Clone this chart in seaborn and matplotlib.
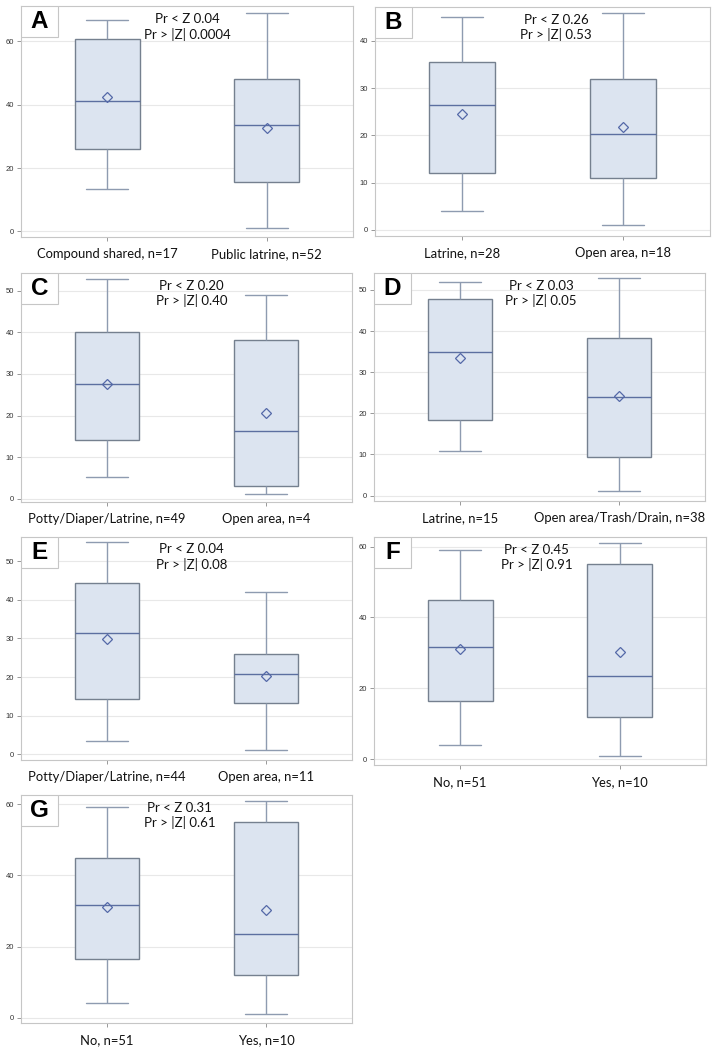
import numpy as np
import pandas as pd
import matplotlib
matplotlib.use("Agg")
import matplotlib.pyplot as plt
import seaborn as sns
from matplotlib.patches import Rectangle

# values: whisker low, Q1, median, Q3, whisker high, mean
a_groups = ['Compound shared, n=17', 'Public latrine, n=52']
a_low = [13.5, 0.9]
a_q1 = [26.1, 15.6]
a_med = [41.1, 33.5]
a_q3 = [60.9, 48.1]
a_high = [66.9, 69.0]
a_mean = [42.4, 32.6]
a_p = ['0.04', '0.0004']

b_groups = ['Latrine, n=28', 'Open area, n=18']
b_low = [4.0, 1.0]
b_q1 = [12.1, 11.0]
b_med = [26.5, 20.3]
b_q3 = [35.5, 32.0]
b_high = [45.0, 46.0]
b_mean = [24.5, 21.8]
b_p = ['0.26', '0.53']

c_groups = ['Potty/Diaper/Latrine, n=49', 'Open area, n=4']
c_low = [5.1, 1.1]
c_q1 = [14.0, 3.1]
c_med = [27.5, 16.2]
c_q3 = [40.1, 38.2]
c_high = [52.9, 48.9]
c_mean = [27.5, 20.6]
c_p = ['0.20', '0.40']

d_groups = ['Latrine, n=15', 'Open area/Trash/Drain, n=38']
d_low = [10.8, 1.1]
d_q1 = [18.3, 9.5]
d_med = [34.9, 24.0]
d_q3 = [47.9, 38.4]
d_high = [51.9, 52.9]
d_mean = [33.5, 24.3]
d_p = ['0.03', '0.05']

e_groups = ['Potty/Diaper/Latrine, n=44', 'Open area, n=11']
e_low = [3.5, 1.0]
e_q1 = [14.4, 13.4]
e_med = [31.5, 20.9]
e_q3 = [44.5, 26.0]
e_high = [54.9, 42.0]
e_mean = [29.8, 20.4]
e_p = ['0.04', '0.08']

f_groups = ['No, n=51', 'Yes, n=10']
f_low = [4.0, 0.9]
f_q1 = [16.4, 11.9]
f_med = [31.6, 23.5]
f_q3 = [45.0, 55.1]
f_high = [59.1, 61.0]
f_mean = [31.2, 30.3]
f_p = ['0.45', '0.91']

g_groups = ['No, n=51', 'Yes, n=10']
g_low = [4.0, 0.9]
g_q1 = [16.4, 11.9]
g_med = [31.6, 23.5]
g_q3 = [45.0, 55.1]
g_high = [59.1, 61.0]
g_mean = [31.2, 30.3]
g_p = ['0.31', '0.61']

panels = [
    ('A', a_groups, a_low, a_q1, a_med, a_q3, a_high, a_mean, a_p),
    ('B', b_groups, b_low, b_q1, b_med, b_q3, b_high, b_mean, b_p),
    ('C', c_groups, c_low, c_q1, c_med, c_q3, c_high, c_mean, c_p),
    ('D', d_groups, d_low, d_q1, d_med, d_q3, d_high, d_mean, d_p),
    ('E', e_groups, e_low, e_q1, e_med, e_q3, e_high, e_mean, e_p),
    ('F', f_groups, f_low, f_q1, f_med, f_q3, f_high, f_mean, f_p),
    ('G', g_groups, g_low, g_q1, g_med, g_q3, g_high, g_mean, g_p),
]

# axes boxes in pixels (left, top, right, bottom), y-limits, y-ticks step
W, H = 717, 1054
boxes = [(21, 6, 353, 237), (375, 7, 710, 236),
         (21, 273, 352, 502), (374, 273, 705, 501),
         (21, 537, 352, 760), (374, 537, 706, 765),
         (21, 795, 352, 1023)]
ylims = [(-1.8, 71.2), (-1.3, 47.2), (-0.8, 54.3), (-1.3, 54.1),
         (-1.5, 56.3), (-1.6, 62.7), (-1.5, 62.6)]
ysteps = [20, 10, 10, 10, 10, 20, 20]
text_x = [0.5, 0.54, 0.515, 0.505, 0.515, 0.49, 0.48]

sns.set_theme(style='white')
plt.rcParams['font.family'] = ['Lato', 'DejaVu Sans']

fill = '#dce4f0'
edge = '#75808f'
whisk = '#8e9bb0'
med_c = '#5c6fa0'
frame = '#c6c6c6'

fig = plt.figure(figsize=(W / 100, H / 100), dpi=100)

for i, (letter, groups, lo, q1, med, q3, hi, mean, pv) in enumerate(panels):
    l, t, r, b = boxes[i]
    ax = fig.add_axes([l / W, 1 - b / H, (r - l) / W, (b - t) / H])

    # five-number summary per group, whiskers at min/max
    df = pd.DataFrame({
        'group': np.repeat(groups, 5),
        'value': np.ravel(np.column_stack([lo, q1, med, q3, hi])),
    })
    sns.boxplot(data=df, x='group', y='value', order=groups, ax=ax,
                whis=(0, 100), width=0.405, color=fill, saturation=1,
                linecolor=edge, linewidth=1.0, capwidths=0.26,
                whiskerprops=dict(color=whisk, lw=1.0),
                capprops=dict(color=whisk, lw=1.0),
                medianprops=dict(color=med_c, lw=1.0))
    ax.plot(np.arange(len(mean)), mean, linestyle='none', marker='D',
            ms=4.7, mfc='none', mec='#5468a8', mew=0.9, zorder=5)

    ax.set_xlim(-0.54, 1.54)
    ax.set_ylim(*ylims[i])
    step = ysteps[i]
    ax.set_yticks(np.arange(0, ylims[i][1], step))
    ax.set_xlabel('')
    ax.set_ylabel('')
    ax.yaxis.grid(True, color='#e8e8e8', lw=0.8)
    ax.set_axisbelow(True)
    for s in ax.spines.values():
        s.set_visible(True)
        s.set_color(frame)
        s.set_linewidth(0.8)
    ax.tick_params(axis='y', labelsize=5.5, length=3, width=0.6,
                   color='#888888', labelcolor='#333333', pad=2, left=True)
    ax.tick_params(axis='x', labelsize=9.4, length=3, width=0.6,
                   color='#888888', labelcolor='#111111', pad=5, bottom=True)
    for lab in ax.get_yticklabels():
        lab.set_fontfamily('Liberation Sans')

    ax.text(text_x[i], 0.945, f'Pr < Z {pv[0]}', transform=ax.transAxes,
            ha='center', va='center', fontsize=9.5, color='#111111')
    ax.text(text_x[i], 0.878, f'Pr > |Z| {pv[1]}', transform=ax.transAxes,
            ha='center', va='center', fontsize=9.5, color='#111111')

    bw = 37 / (r - l)
    bh = 31 / (b - t)
    ax.add_patch(Rectangle((0, 1 - bh), bw, bh, transform=ax.transAxes,
                           fc='white', ec=frame, lw=0.8, zorder=6))
    ax.text(bw / 2, 1 - bh / 2, letter, transform=ax.transAxes,
            ha='center', va='center', fontsize=17.5, fontweight='bold',
            family='Liberation Sans', color='black', zorder=7)

fig.savefig('out.png', dpi=100, facecolor='white')
